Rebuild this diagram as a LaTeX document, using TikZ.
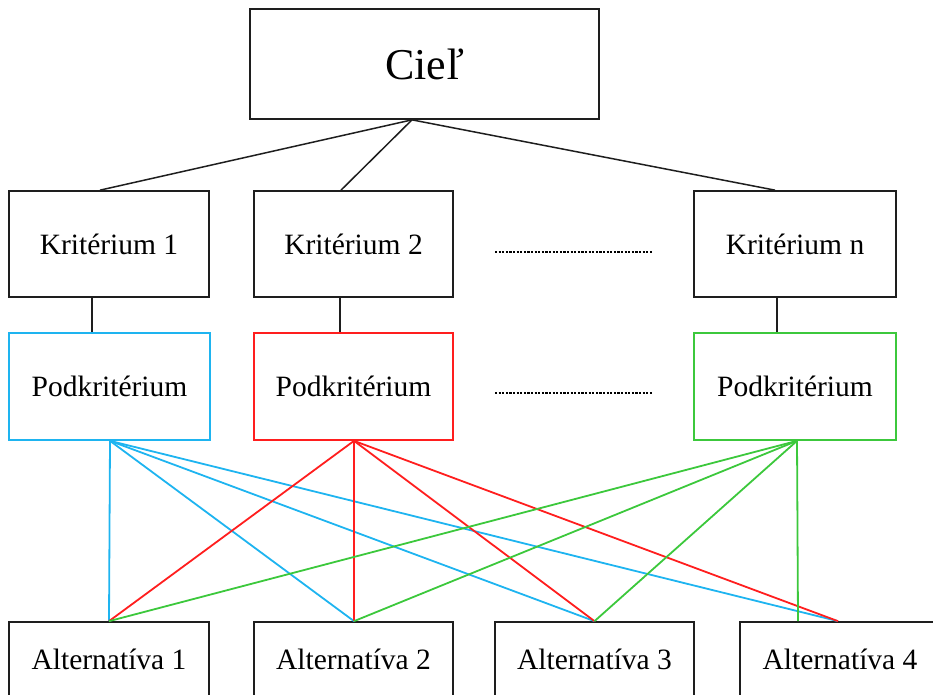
\documentclass[tikz,border=0pt]{standalone}
\usepackage{fontspec}
\setmainfont{Liberation Serif}
\definecolor{linkcyan}{RGB}{30,180,240}
\definecolor{linkred}{RGB}{255,30,30}
\definecolor{linkgreen}{RGB}{60,200,60}
\definecolor{boxgray}{RGB}{30,30,30}
\begin{document}
\begin{tikzpicture}[x=1pt,y=-1pt,
  box/.style={draw=boxgray, line width=1.7pt, inner sep=0pt, minimum width=200pt,
    minimum height=106pt, fill=white, font=\fontsize{29.5}{34}\selectfont},
  tie/.style={draw=boxgray, line width=1.5pt},
  cyanlink/.style={draw=linkcyan, line width=1.8pt},
  redlink/.style={draw=linkred, line width=1.8pt},
  greenlink/.style={draw=linkgreen, line width=1.8pt},
  ellipsis/.style={draw=black, line width=2.8pt, dash pattern=on 2.2pt off 1.4pt}]
\useasboundingbox (0,0) rectangle (933,694);
\clip (0,0) rectangle (933,694);

% goal
\node[box, minimum width=349pt, minimum height=110pt, font=\fontsize{44}{50}\selectfont] (goal) at (424.5,64) {Cieľ};

% criteria
\node[box] (k1) at (109,244) {Kritérium 1};
\node[box, minimum width=199pt] (k2) at (353.5,244) {Kritérium 2};
\node[box, minimum width=202pt] (kn) at (795,244) {Kritérium n};

% sub-criteria
\node[box, draw=linkcyan, minimum width=201pt, minimum height=107pt] (p1) at (109.5,386.5) {Podkritérium};
\node[box, draw=linkred, minimum width=199pt, minimum height=107pt] (p2) at (353.5,386.5) {Podkritérium};
\node[box, draw=linkgreen, minimum width=202pt, minimum height=107pt] (pn) at (795,386.5) {Podkritérium};

% alternatives
\node[box, minimum height=74pt] (a1) at (109,659) {Alternatíva 1};
\node[box, minimum width=199pt, minimum height=74pt] (a2) at (353.5,659) {Alternatíva 2};
\node[box, minimum width=199pt, minimum height=74pt] (a3) at (594.5,659) {Alternatíva 3};
\node[box, minimum height=74pt] (a4) at (840,659) {Alternatíva 4};

% omitted criteria
\coordinate (e1a) at (495,252); \coordinate (e1b) at (652,252);
\coordinate (e2a) at (495,393); \coordinate (e2b) at (652,393);
\draw[ellipsis] (e1a) -- (e1b);
\draw[ellipsis] (e2a) -- (e2b);

% goal to criteria
\coordinate (g) at ([xshift=-12.5pt]goal.south);
\draw[tie] (g) -- ([xshift=-9pt]k1.north);
\draw[tie] (g) -- ([xshift=-12.5pt]k2.north);
\draw[tie] (g) -- ([xshift=-20pt]kn.north);

% criteria to sub-criteria
\draw[tie] ([xshift=-17pt]k1.south) -- ([xshift=-17.5pt]p1.north);
\draw[tie] ([xshift=-13.5pt]k2.south) -- ([xshift=-13.5pt]p2.north);
\draw[tie] ([xshift=-18pt]kn.south) -- ([xshift=-18pt]pn.north);

% sub-criteria to alternatives
\coordinate (pb1) at ([xshift=0.5pt]p1.south);
\coordinate (pb2) at ([xshift=0.5pt]p2.south);
\coordinate (pbn) at ([xshift=2pt]pn.south);
\coordinate (a2top) at ([xshift=0.5pt]a2.north);
\coordinate (a4top) at ([xshift=-2pt]a4.north);
\coordinate (a4side) at ([xshift=-42pt]a4.north);

\foreach \t in {a1.north,a2top,a3.north,a4top}
  \draw[cyanlink] (pb1) -- (\t);
\foreach \t in {a1.north,a2top,a3.north,a4top}
  \draw[redlink] (pb2) -- (\t);
\foreach \t in {a1.north,a2top,a3.north,a4side}
  \draw[greenlink] (pbn) -- (\t);
\end{tikzpicture}
\end{document}
